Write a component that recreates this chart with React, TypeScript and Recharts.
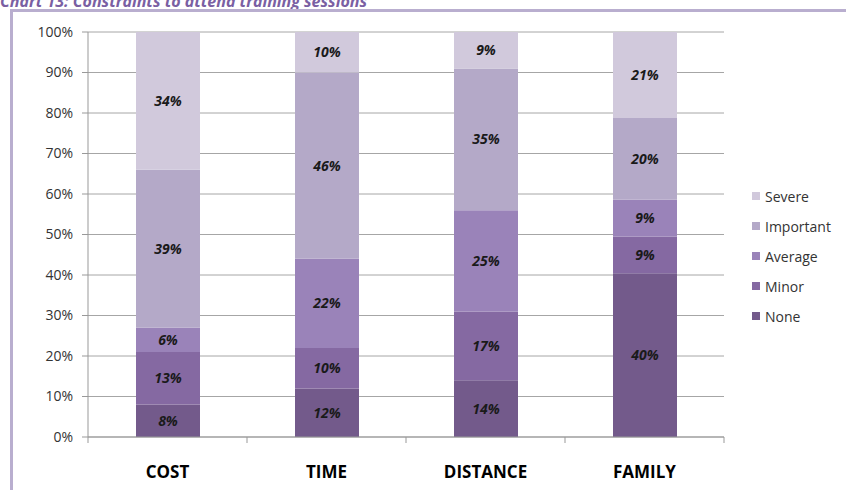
import { BarChart, Bar, XAxis, YAxis, CartesianGrid, LabelList } from 'recharts'

const categories = ['COST', 'TIME', 'DISTANCE', 'FAMILY']
const none = [8, 12, 14, 40]
const minor = [13, 10, 17, 9]
const average = [6, 22, 25, 9]
const important = [39, 46, 35, 20]
const severe = [34, 10, 9, 21]
const yTicks = [0, 0.1, 0.2, 0.3, 0.4, 0.5, 0.6, 0.7, 0.8, 0.9, 1]

const seriesKeys = ['None', 'Minor', 'Average', 'Important', 'Severe']
const colors: Record<string, string> = {
  None: '#735a8b',
  Minor: '#8569a2',
  Average: '#9a83b9',
  Important: '#b4a9c8',
  Severe: '#d1c9dc',
}

const data = categories.map((c, i) => ({
  name: c,
  None: none[i],
  Minor: minor[i],
  Average: average[i],
  Important: important[i],
  Severe: severe[i],
}))

const font = '"Open Sans", "DejaVu Sans", sans-serif'

// category label plus Excel-style tick marks between categories
function CategoryTick(props: any) {
  const { x, y, payload, index } = props
  const off = payload.offset ?? 79.5
  const axisY = y - 8
  return (
    <g>
      <line x1={x - off} y1={axisY} x2={x - off} y2={axisY + 6} stroke="#999" />
      {index === categories.length - 1 && (
        <line x1={x + off} y1={axisY} x2={x + off} y2={axisY + 6} stroke="#999" />
      )}
      <text
        x={x}
        y={axisY + 41}
        textAnchor="middle"
        fill="#000"
        fontSize={17}
        fontWeight="bold"
        fontFamily={font}
      >
        {payload.value}
      </text>
    </g>
  )
}

function LegendBox() {
  const items = [...seriesKeys].reverse()
  return (
    <div style={{ position: 'absolute', left: 752, top: 181, fontFamily: font, fontSize: 14, color: '#333' }}>
      {items.map((k) => (
        <div key={k} style={{ display: 'flex', alignItems: 'center', height: 30 }}>
          <span style={{ width: 8, height: 8, background: colors[k], marginRight: 5 }} />
          <span>{k}</span>
        </div>
      ))}
    </div>
  )
}

export default function App() {
  return (
    <div style={{ position: 'absolute', left: 0, top: 0, width: 846, height: 490, overflow: 'hidden', background: '#fff' }}>
      <div
        style={{
          position: 'absolute',
          left: 0,
          top: -10,
          fontFamily: font,
          fontSize: 16,
          fontWeight: 'bold',
          fontStyle: 'italic',
          color: '#7a5fa3',
          whiteSpace: 'nowrap',
        }}
      >
        Chart 13: Constraints to attend training sessions
      </div>
      <div
        style={{
          position: 'absolute',
          left: 10,
          top: 9,
          width: 836,
          height: 481,
          borderLeft: '3px solid #b9aecf',
          borderTop: '3px solid #b9aecf',
        }}
      />
      <div style={{ position: 'absolute', left: 0, top: 0 }}>
        <BarChart
          width={846}
          height={490}
          data={data}
          stackOffset="expand"
          barSize={64}
          margin={{ top: 32, right: 122, bottom: 23, left: 0 }}
        >
          <CartesianGrid vertical={false} stroke="#a6a6a6" />
          <XAxis
            dataKey="name"
            height={30}
            axisLine={{ stroke: '#999' }}
            tickLine={false}
            tick={<CategoryTick />}
            interval={0}
          />
          <YAxis
            width={88}
            ticks={yTicks}
            domain={[0, 1]}
            tickFormatter={(v: number) => `${Math.round(v * 100)}%`}
            axisLine={{ stroke: '#999' }}
            tickLine={{ stroke: '#999' }}
            tickSize={6}
            tickMargin={9}
            tick={{ fill: '#333', fontSize: 14, fontFamily: font }}
            interval={0}
          />
          {seriesKeys.map((k) => (
            <Bar key={k} dataKey={k} stackId="a" fill={colors[k]} isAnimationActive={false}>
              <LabelList
                dataKey={k}
                position="center"
                formatter={(v: any) => `${v}%`}
                style={{ fill: '#1a1a1a', fontSize: 14, fontWeight: 'bold', fontStyle: 'italic', fontFamily: font }}
              />
            </Bar>
          ))}
        </BarChart>
      </div>
      <LegendBox />
    </div>
  )
}
